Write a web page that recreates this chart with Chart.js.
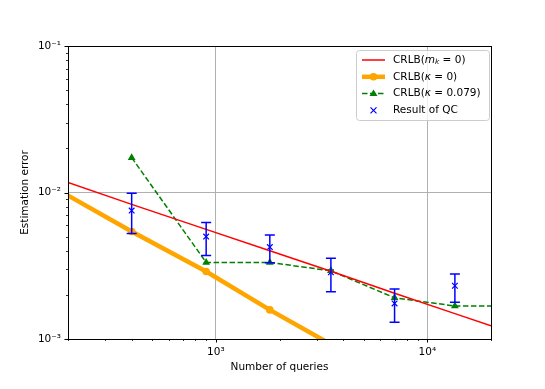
<!DOCTYPE html>
<html>
<head>
<meta charset="utf-8">
<script src="https://cdn.jsdelivr.net/npm/chart.js@4/dist/chart.umd.min.js"></script>
<style>
  html, body { margin: 0; padding: 0; background: #fff; }
</style>
</head>
<body>
<canvas id="chart" width="545" height="389"></canvas>
<script>
// number of queries where the QC runs were done
const queries = [400, 900, 1800, 3500, 7000, 13500];

// CRLB(m_k = 0)
const crlbM0X = [200, 400, 900, 1800, 3500, 7000, 13500, 20000];
const crlbM0 = [0.0117, 0.0083, 0.0056, 0.0040, 0.0029, 0.00205, 0.00149, 0.00123];

// CRLB(kappa = 0)
const crlbK0X = [100, 400, 900, 1800, 3500];
const crlbK0 = [0.0168, 0.00542, 0.00289, 0.00158, 0.00092];

// CRLB(kappa = 0.079)
const crlbK079X = [400, 900, 1800, 3500, 7000, 13500, 27000];
const crlbK079 = [0.0173, 0.00333, 0.00333, 0.00292, 0.00191, 0.00168, 0.00168];

// Result of QC (mean + error bar ends)
const qcMean = [0.00753, 0.0050, 0.00424, 0.00285, 0.00175, 0.00231];
const qcLow = [0.00525, 0.00372, 0.00331, 0.00210, 0.00130, 0.00178];
const qcHigh = [0.0099, 0.00624, 0.00513, 0.00356, 0.00219, 0.00278];

// axes
const xMin = 200, xMax = 20000;
const yMin = 0.001, yMax = 0.1;
const xMajorTicks = [1000, 10000];
const xTickLabels = ["10³", "10⁴"];
const yMajorTicks = [0.001, 0.01, 0.1];
const yTickLabels = ["10⁻³", "10⁻²", "10⁻¹"];

const FONT = "DejaVu Sans";
const FS = 10.5;

function toPts(xs, ys) {
  return xs.map((x, i) => ({ x: x, y: ys[i] }));
}

// minor ticks 2..9 x 10^n inside the range
function logTicks(min, max) {
  const out = [];
  for (let e = Math.floor(Math.log10(min)); e <= Math.ceil(Math.log10(max)); e++) {
    for (let m = 1; m <= 9; m++) {
      const v = +(m * Math.pow(10, e)).toPrecision(6);
      if (v >= min * 0.999 && v <= max * 1.001) out.push(v);
    }
  }
  return out;
}

function isMajor(v, majors) {
  return majors.some((m) => Math.abs(v / m - 1) < 1e-6);
}

function labelFor(v, majors, labels) {
  const i = majors.findIndex((m) => Math.abs(v / m - 1) < 1e-6);
  return i >= 0 ? labels[i] : "";
}

// draw text made of several runs (normal / italic / subscript)
function drawRuns(ctx, x, y, runs) {
  runs.forEach((r) => {
    ctx.font = r.font;
    ctx.fillText(r.t, x, y + (r.dy || 0));
    x += ctx.measureText(r.t).width;
  });
}

const normal = `${FS}px "${FONT}"`;
const italic = `italic ${FS}px "${FONT}"`;
const subItalic = `italic ${FS * 0.7}px "${FONT}"`;

const legendItems = [
  { kind: "red", runs: [{ t: "CRLB(", font: normal }, { t: "m", font: italic }, { t: "k", font: subItalic, dy: 2.5 }, { t: " = 0)", font: normal }] },
  { kind: "orange", runs: [{ t: "CRLB(", font: normal }, { t: "κ", font: italic }, { t: " = 0)", font: normal }] },
  { kind: "green", runs: [{ t: "CRLB(", font: normal }, { t: "κ", font: italic }, { t: " = 0.079)", font: normal }] },
  { kind: "blue", runs: [{ t: "Result of QC", font: normal }] },
];

function drawTriangle(ctx, x, y, r) {
  ctx.beginPath();
  ctx.moveTo(x, y - r);
  ctx.lineTo(x + r * 0.95, y + r * 0.6);
  ctx.lineTo(x - r * 0.95, y + r * 0.6);
  ctx.closePath();
  ctx.fill();
}

const extras = {
  id: "extras",
  afterDatasetsDraw(chart) {
    const { ctx, chartArea: a, scales } = chart;
    const sx = scales.x, sy = scales.y;

    // error bars
    ctx.save();
    ctx.beginPath();
    ctx.rect(a.left, a.top, a.right - a.left, a.bottom - a.top);
    ctx.clip();
    ctx.strokeStyle = "#0000ff";
    ctx.lineWidth = 1.5;
    queries.forEach((q, i) => {
      const px = sx.getPixelForValue(q);
      const y1 = sy.getPixelForValue(qcLow[i]);
      const y2 = sy.getPixelForValue(qcHigh[i]);
      ctx.beginPath();
      ctx.moveTo(px, y1); ctx.lineTo(px, y2);
      ctx.moveTo(px - 5, y1); ctx.lineTo(px + 5, y1);
      ctx.moveTo(px - 5, y2); ctx.lineTo(px + 5, y2);
      ctx.stroke();
    });
    ctx.restore();
  },
  afterDraw(chart) {
    const { ctx, chartArea: a, scales } = chart;
    const sx = scales.x, sy = scales.y;
    ctx.save();

    // tick marks
    ctx.strokeStyle = "#000";
    sx.ticks.forEach((t) => {
      const px = Math.round(sx.getPixelForValue(t.value)) + 0.5;
      const maj = isMajor(t.value, xMajorTicks);
      ctx.lineWidth = maj ? 1 : 0.8;
      ctx.beginPath();
      ctx.moveTo(px, a.bottom);
      ctx.lineTo(px, a.bottom + (maj ? 3.5 : 2));
      ctx.stroke();
    });
    sy.ticks.forEach((t) => {
      const py = Math.round(sy.getPixelForValue(t.value)) + 0.5;
      const maj = isMajor(t.value, yMajorTicks);
      ctx.lineWidth = maj ? 1 : 0.8;
      ctx.beginPath();
      ctx.moveTo(a.left, py);
      ctx.lineTo(a.left - (maj ? 3.5 : 2), py);
      ctx.stroke();
    });

    // spines
    ctx.lineWidth = 1;
    ctx.strokeRect(Math.round(a.left) + 0.5, Math.round(a.top) + 0.5,
      Math.round(a.right - a.left), Math.round(a.bottom - a.top));

    // legend
    const bx = 356, by = 50, bw = 133, bh = 70;
    ctx.fillStyle = "rgba(255,255,255,0.8)";
    ctx.strokeStyle = "#cccccc";
    ctx.lineWidth = 1;
    ctx.beginPath();
    ctx.roundRect(bx + 0.5, by + 0.5, bw, bh, 3);
    ctx.fill();
    ctx.stroke();

    const hx1 = 362, hx2 = 385, hm = (hx1 + hx2) / 2;
    legendItems.forEach((it, i) => {
      const y = 60 + i * 16.8;
      if (it.kind === "red") {
        ctx.strokeStyle = "#ff0000"; ctx.lineWidth = 1.5; ctx.setLineDash([]);
        ctx.beginPath(); ctx.moveTo(hx1, y); ctx.lineTo(hx2, y); ctx.stroke();
      } else if (it.kind === "orange") {
        ctx.strokeStyle = "#ffa500"; ctx.lineWidth = 4.5; ctx.setLineDash([]);
        ctx.beginPath(); ctx.moveTo(hx1, y); ctx.lineTo(hx2, y); ctx.stroke();
        ctx.fillStyle = "#ffa500";
        ctx.beginPath(); ctx.arc(hm, y, 3.8, 0, Math.PI * 2); ctx.fill();
      } else if (it.kind === "green") {
        ctx.strokeStyle = "#008000"; ctx.lineWidth = 1.5; ctx.setLineDash([5.5, 2.5]);
        ctx.beginPath(); ctx.moveTo(hx1, y); ctx.lineTo(hx2, y); ctx.stroke();
        ctx.setLineDash([]);
        ctx.fillStyle = "#008000";
        drawTriangle(ctx, hm, y, 4.2);
      } else {
        ctx.strokeStyle = "#0000ff"; ctx.lineWidth = 1.2;
        ctx.beginPath();
        ctx.moveTo(hm - 3, y - 3); ctx.lineTo(hm + 3, y + 3);
        ctx.moveTo(hm + 3, y - 3); ctx.lineTo(hm - 3, y + 3);
        ctx.stroke();
      }
      ctx.fillStyle = "#000";
      ctx.textBaseline = "middle";
      ctx.textAlign = "left";
      drawRuns(ctx, 393, y, it.runs);
    });
    ctx.restore();
  },
};

new Chart(document.getElementById("chart").getContext("2d"), {
  type: "line",
  data: {
    datasets: [
      {
        label: "CRLB(m_k=0)",
        data: toPts(crlbM0X, crlbM0),
        borderColor: "#ff0000",
        borderWidth: 1.5,
        pointRadius: 0,
        tension: 0,
      },
      {
        label: "CRLB(κ=0)",
        data: toPts(crlbK0X, crlbK0),
        borderColor: "#ffa500",
        backgroundColor: "#ffa500",
        borderWidth: 4.5,
        pointRadius: 3.8,
        pointBorderWidth: 0,
        pointStyle: "circle",
        tension: 0,
      },
      {
        label: "CRLB(κ=0.079)",
        data: toPts(crlbK079X, crlbK079),
        borderColor: "#008000",
        backgroundColor: "#008000",
        borderWidth: 1.5,
        borderDash: [5.5, 2.5],
        pointRadius: 4.5,
        pointBorderWidth: 0,
        pointStyle: "triangle",
        tension: 0,
      },
      {
        label: "Result of QC",
        data: toPts(queries, qcMean),
        showLine: false,
        borderColor: "#0000ff",
        backgroundColor: "#0000ff",
        pointStyle: "crossRot",
        pointRadius: 4,
        pointBorderWidth: 1.2,
      },
    ],
  },
  options: {
    responsive: false,
    animation: false,
    layout: { padding: { left: 0, right: 54, top: 46, bottom: 0 } },
    plugins: { legend: { display: false }, tooltip: { enabled: false } },
    scales: {
      x: {
        type: "logarithmic",
        min: xMin,
        max: xMax,
        afterBuildTicks: (s) => { s.ticks = logTicks(xMin, xMax).map((v) => ({ value: v })); },
        afterFit: (s) => { s.height = 50; },
        grid: {
          drawTicks: false,
          color: (c) => (c.tick && isMajor(c.tick.value, xMajorTicks) ? "#b0b0b0" : "rgba(0,0,0,0)"),
          lineWidth: 1,
        },
        border: { display: false },
        ticks: {
          autoSkip: false,
          maxRotation: 0,
          padding: 7,
          color: "#000",
          font: { family: FONT, size: FS },
          callback: (v) => labelFor(v, xMajorTicks, xTickLabels),
        },
        title: {
          display: true,
          text: "Number of queries",
          color: "#000",
          font: { family: FONT, size: FS },
          padding: { top: 0, bottom: 15 },
        },
      },
      y: {
        type: "logarithmic",
        min: yMin,
        max: yMax,
        afterBuildTicks: (s) => { s.ticks = logTicks(yMin, yMax).map((v) => ({ value: v })); },
        afterFit: (s) => { s.width = 68; },
        grid: {
          drawTicks: false,
          color: (c) => (c.tick && isMajor(c.tick.value, yMajorTicks) ? "#b0b0b0" : "rgba(0,0,0,0)"),
          lineWidth: 1,
        },
        border: { display: false },
        ticks: {
          autoSkip: false,
          padding: 7,
          color: "#000",
          font: { family: FONT, size: FS },
          callback: (v) => labelFor(v, yMajorTicks, yTickLabels),
        },
        title: {
          display: true,
          text: "Estimation error",
          color: "#000",
          font: { family: FONT, size: FS },
          padding: { top: 19, bottom: 0 },
        },
      },
    },
  },
  plugins: [extras],
});
</script>
</body>
</html>
